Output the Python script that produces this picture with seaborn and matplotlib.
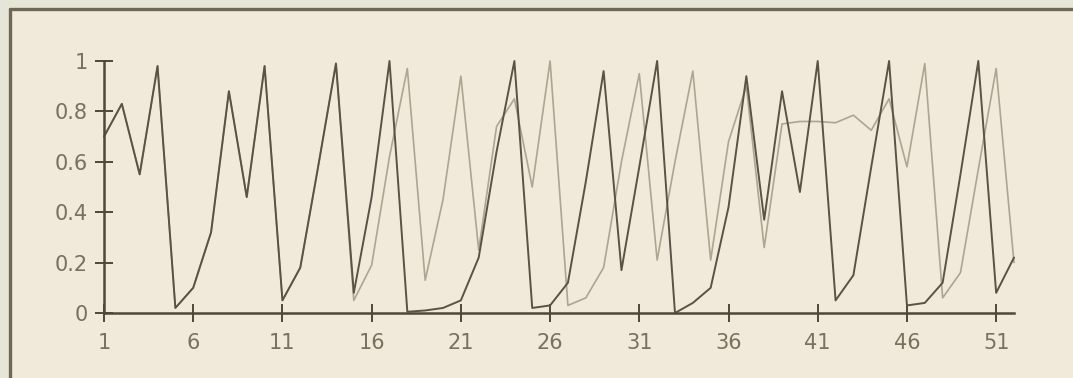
import numpy as np
import pandas as pd
import matplotlib
matplotlib.use("Agg")
import matplotlib.pyplot as plt
from matplotlib.lines import Line2D
from matplotlib.patches import Rectangle
import seaborn as sns

# ---- data ----
steps = list(range(1, 53))
dark_values = [0.70, 0.83, 0.55, 0.98, 0.02, 0.10, 0.32, 0.88, 0.46, 0.98,
               0.05, 0.18, 0.58, 0.99, 0.08, 0.46, 1.00, 0.005, 0.01, 0.02,
               0.05, 0.22, 0.64, 1.00, 0.02, 0.03, 0.12, 0.52, 0.96, 0.17,
               0.58, 1.00, 0.00, 0.04, 0.10, 0.42, 0.94, 0.37, 0.88, 0.48,
               1.00, 0.05, 0.15, 0.58, 1.00, 0.03, 0.04, 0.12, 0.55, 1.00,
               0.08, 0.22]
light_values = [0.70, 0.83, 0.55, 0.98, 0.02, 0.10, 0.32, 0.88, 0.46, 0.98,
                0.05, 0.18, 0.58, 0.99, 0.05, 0.19, 0.62, 0.97, 0.13, 0.45,
                0.94, 0.25, 0.74, 0.85, 0.50, 1.00, 0.03, 0.06, 0.18, 0.60,
                0.95, 0.21, 0.60, 0.96, 0.21, 0.68, 0.90, 0.26, 0.75, 0.76,
                0.76, 0.755, 0.785, 0.725, 0.85, 0.58, 0.99, 0.06, 0.16, 0.57,
                0.97, 0.20]
x_ticks = [1, 6, 11, 16, 21, 26, 31, 36, 41, 46, 51]
y_ticks = [0, 0.2, 0.4, 0.6, 0.8, 1]
y_tick_labels = ["0", "0.2", "0.4", "0.6", "0.8", "1"]

df = pd.DataFrame({
    "step": steps * 2,
    "value": dark_values + light_values,
    "series": ["dark"] * len(steps) + ["light"] * len(steps),
})

sns.set_theme(style="white")
plt.rcParams["font.family"] = ["DejaVu Sans"]

W, H = 1073, 378
fig = plt.figure(figsize=(W / 100, H / 100), dpi=100)
fig.patch.set_facecolor("#e6e6d8")

# scanned-page panel with its frame (top and left edges visible)
fig.add_artist(Rectangle((10 / W, 0), 1, 1 - 9 / H, transform=fig.transFigure,
                         facecolor="#f1e9d9", edgecolor="none", zorder=0))
fig.add_artist(Line2D([10 / W, 1], [1 - 9 / H, 1 - 9 / H], transform=fig.transFigure,
                      color="#6e6758", lw=2.4, zorder=1))
fig.add_artist(Line2D([10 / W, 10 / W], [0, 1 - 9 / H], transform=fig.transFigure,
                      color="#6e6758", lw=2.4, zorder=1))

left, right = 104 / W, 1014 / W
bottom, top = 1 - 313 / H, 1 - 61 / H
ax = fig.add_axes([left, bottom, right - left, top - bottom])
ax.set_facecolor("none")

sns.lineplot(data=df[df.series == "light"], x="step", y="value", ax=ax,
             color="#aca591", lw=1.2, clip_on=False, legend=False)
sns.lineplot(data=df[df.series == "dark"], x="step", y="value", ax=ax,
             color="#5a5345", lw=1.4, clip_on=False, legend=False)

ax.set_xlim(1, 52)
ax.set_ylim(0, 1)
ax.set_xticks(x_ticks)
ax.set_xticklabels([str(t) for t in x_ticks])
ax.set_yticks(y_ticks)
ax.set_yticklabels(y_tick_labels)
ax.set_xlabel("")
ax.set_ylabel("")

for s in ["top", "right"]:
    ax.spines[s].set_visible(False)
for s in ["left", "bottom"]:
    ax.spines[s].set_color("#4e4839")
    ax.spines[s].set_linewidth(1.8)

ax.tick_params(axis="both", direction="inout", length=13, width=1.4,
               color="#4e4839", labelcolor="#77715f", labelsize=15)
ax.tick_params(axis="x", pad=8, bottom=True)
ax.tick_params(axis="y", pad=5, left=True)
ax.grid(False)

fig.savefig("out.png", dpi=100, facecolor=fig.get_facecolor())
